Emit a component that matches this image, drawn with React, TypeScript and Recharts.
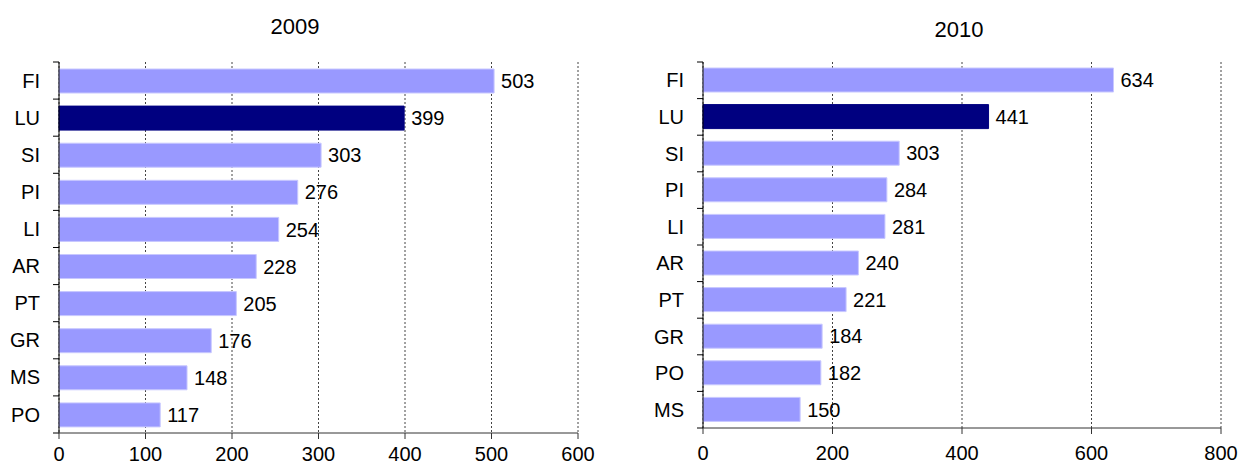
import React from "react";
import { BarChart, Bar, XAxis, YAxis, CartesianGrid, LabelList, Cell } from "recharts";

const categories2009 = ["FI", "LU", "SI", "PI", "LI", "AR", "PT", "GR", "MS", "PO"];
const values2009 = [503, 399, 303, 276, 254, 228, 205, 176, 148, 117];
const ticks2009 = [0, 100, 200, 300, 400, 500, 600];

const categories2010 = ["FI", "LU", "SI", "PI", "LI", "AR", "PT", "GR", "PO", "MS"];
const values2010 = [634, 441, 303, 284, 281, 240, 221, 184, 182, 150];
const ticks2010 = [0, 200, 400, 600, 800];

const highlight = "LU";

const FONT = "'Liberation Sans', Arial, sans-serif";
const LIGHT = "#9999FF";
const DARK = "#000080";

type PanelProps = {
  title: string;
  categories: string[];
  values: number[];
  ticks: number[];
  left: number;
  width: number;
  yAxisWidth: number;
  rightMargin: number;
  xAxisHeight: number;
  xTickMargin: number;
  titleX: number;
  titleY: number;
};

const HEIGHT = 467;
const TOP = 62;

function Panel(p: PanelProps) {
  const data = p.categories.map((c, i) => ({ name: c, value: p.values[i] }));
  const plotHeight = HEIGHT - TOP - p.xAxisHeight;
  const band = plotHeight / p.categories.length;
  const n = p.categories.length;
  const tickGap = 19;

  const CatTick = (props: any) => {
    const { x, y, payload, index } = props;
    const axisX = x + tickGap;
    return (
      <g>
        <text
          x={x}
          y={y}
          dy="0.355em"
          textAnchor="end"
          fontSize={20}
          fontFamily={FONT}
          fill="#000"
        >
          {payload.value}
        </text>
        <line x1={axisX - 6} x2={axisX} y1={y - band / 2} y2={y - band / 2} stroke="#000" strokeWidth={1} />
        {index === n - 1 ? (
          <line x1={axisX - 6} x2={axisX} y1={y + band / 2} y2={y + band / 2} stroke="#000" strokeWidth={1} />
        ) : null}
      </g>
    );
  };

  return (
    <div style={{ position: "absolute", left: p.left, top: 0, width: p.width, height: HEIGHT }}>
      <div
        style={{
          position: "absolute",
          left: p.titleX - p.left - 100,
          top: p.titleY - 11,
          width: 200,
          textAlign: "center",
          fontFamily: FONT,
          fontSize: 22,
          lineHeight: "22px",
          color: "#000",
        }}
      >
        {p.title}
      </div>
      <BarChart
        width={p.width}
        height={HEIGHT}
        data={data}
        layout="vertical"
        margin={{ top: TOP, right: p.rightMargin, bottom: 0, left: 0 }}
        barSize={24}
      >
        <CartesianGrid horizontal={false} vertical={true} stroke="#444" strokeDasharray="2 2" />
        <XAxis
          type="number"
          domain={[p.ticks[0], p.ticks[p.ticks.length - 1]]}
          ticks={p.ticks}
          interval={0}
          height={p.xAxisHeight}
          axisLine={{ stroke: "#333", strokeWidth: 1 }}
          tickLine={{ stroke: "#333", strokeWidth: 1 }}
          tickSize={6}
          tickMargin={p.xTickMargin}
          tick={{ fill: "#000", fontSize: 20, fontFamily: FONT }}
        />
        <XAxis
          xAxisId="top"
          orientation="top"
          type="number"
          domain={[p.ticks[0], p.ticks[p.ticks.length - 1]]}
          height={0}
          tick={false}
          tickLine={false}
          axisLine={{ stroke: "#999", strokeWidth: 1.5 }}
        />
        <YAxis
          type="category"
          dataKey="name"
          width={p.yAxisWidth}
          axisLine={{ stroke: "#000", strokeWidth: 1 }}
          tickLine={false}
          tickSize={6}
          tickMargin={13}
          interval={0}
          tick={<CatTick />}
        />
        <Bar dataKey="value" isAnimationActive={false} stroke="#ccccff" strokeWidth={1}>
          {data.map((d) => (
            <Cell key={d.name} fill={d.name === highlight ? DARK : LIGHT} stroke={d.name === highlight ? DARK : "#c8c8ff"} />
          ))}
          <LabelList
            dataKey="value"
            position="right"
            offset={7}
            fill="#000"
            fontSize={20}
            fontFamily={FONT}
          />
        </Bar>
      </BarChart>
    </div>
  );
}

export default function App() {
  return (
    <div style={{ position: "absolute", left: 0, top: 0, width: 1241, height: HEIGHT, background: "#fff" }}>
      <Panel
        title="2009"
        categories={categories2009}
        values={values2009}
        ticks={ticks2009}
        left={0}
        width={620}
        yAxisWidth={59}
        rightMargin={42}
        xAxisHeight={34}
        xTickMargin={8}
        titleX={295}
        titleY={27}
      />
      <Panel
        title="2010"
        categories={categories2010}
        values={values2010}
        ticks={ticks2010}
        left={620}
        width={621}
        yAxisWidth={83}
        rightMargin={20}
        xAxisHeight={39}
        xTickMargin={12}
        titleX={959}
        titleY={30}
      />
    </div>
  );
}
